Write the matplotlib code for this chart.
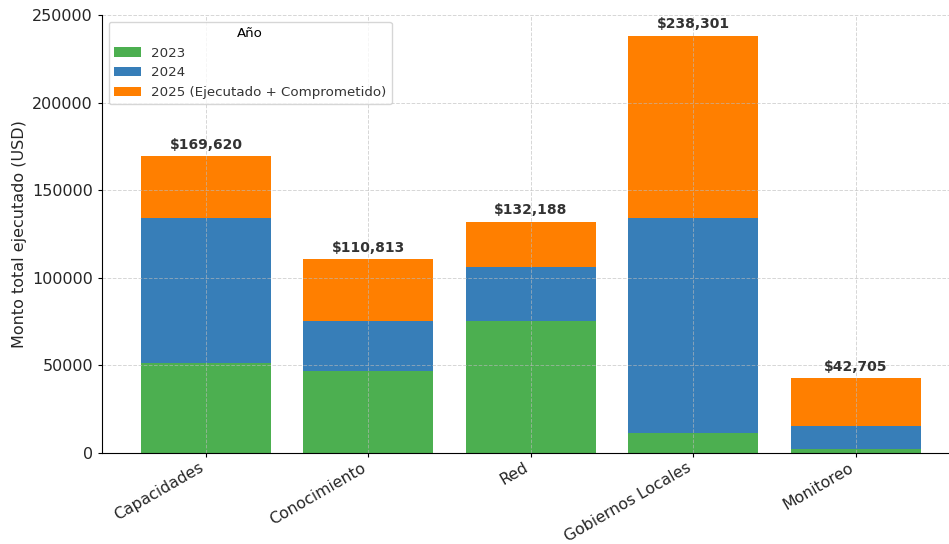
import numpy as np
import matplotlib
matplotlib.use('Agg')
import matplotlib.pyplot as plt

# datos por componente
componentes = ['Capacidades', 'Conocimiento', 'Red', 'Gobiernos Locales', 'Monitoreo']
monto_2023 = [51400, 46800, 75300, 11400, 2300]
monto_2024 = [82700, 28500, 30900, 122700, 13100]
totales = [169620, 110813, 132188, 238301, 42705]
monto_2025 = [t - a - b for t, a, b in zip(totales, monto_2023, monto_2024)]

series = ['2023', '2024', '2025 (Ejecutado + Comprometido)']
colores = ['#4caf50', '#377eb8', '#ff7f00']

fig = plt.figure(figsize=(9.49, 5.44), dpi=100)
ax = fig.add_axes([0.1075, 0.1673, 0.904, 0.8052])

x = np.arange(len(componentes))
b1 = np.array(monto_2023)
b2 = b1 + np.array(monto_2024)
ax.bar(x, monto_2023, 0.8, color=colores[0], label=series[0])
ax.bar(x, monto_2024, 0.8, bottom=b1, color=colores[1], label=series[1])
ax.bar(x, monto_2025, 0.8, bottom=b2, color=colores[2], label=series[2])

for xi, t in zip(x, totales):
    ax.text(xi, t + 2500, f'${t:,}', ha='center', va='bottom',
            fontsize=10, fontweight='bold', color='#333333')

ax.set_ylim(0, 250216)
ax.set_xticks(x)
ax.set_xticklabels(componentes, rotation=30, ha='right', fontsize=11.3, color='#262626')
ax.tick_params(axis='x', pad=2)
ax.tick_params(axis='y', labelsize=11.5, labelcolor='#262626')
ax.tick_params(length=3)
ax.set_ylabel('Monto total ejecutado (USD)', fontsize=11.5, color='#262626')
ax.grid(True, linestyle='--', color='#bbbbbb', alpha=0.6, linewidth=0.7)
ax.spines['top'].set_visible(False)
ax.spines['right'].set_visible(False)

leg = ax.legend(title='Año', loc='upper left', fontsize=9.6, title_fontsize=9.6,
                frameon=True)
leg.get_frame().set_edgecolor('#cccccc')
for t in leg.get_texts():
    t.set_color('#333333')

fig.savefig('out.png', dpi=100)
